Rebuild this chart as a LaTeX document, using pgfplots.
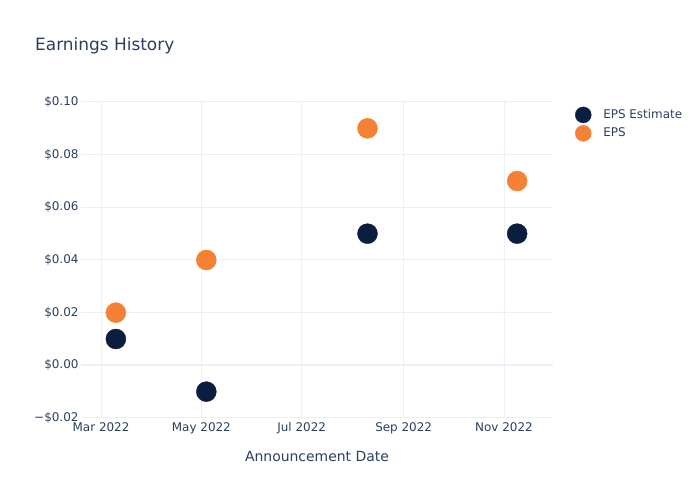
\documentclass[border=0pt]{standalone}
\usepackage{pgfplots}
\pgfplotsset{compat=1.18}
\usepackage{fontspec}
\setmainfont{DejaVu Sans}
\definecolor{navy}{RGB}{11,30,64}
\definecolor{orng}{RGB}{245,130,52}
\definecolor{txt}{RGB}{42,63,95}
\definecolor{grd}{RGB}{235,240,248}
\begin{document}
\begin{tikzpicture}[x=1bp,y=1bp]
\path[use as bounding box] (0,0) rectangle (700,500);
\node[anchor=base west, text=txt, font=\fontsize{17}{20}\selectfont, inner sep=0] at (35,449) {Earnings History};
\begin{axis}[
  at={(81bp,82bp)}, anchor=south west,
  scale only axis, width=472bp, height=316bp,
  xmin=-12.2, xmax=274.8, ymin=-0.02, ymax=0.1,
  axis line style={draw=none},
  tick style={draw=none},
  grid=major, major grid style={grd, line width=1bp},
  xtick={0,61,122,184,245},
  xticklabels={Mar 2022,May 2022,Jul 2022,Sep 2022,Nov 2022},
  ytick={-0.02,0,0.02,0.04,0.06,0.08,0.1},
  yticklabels={−\$0.02,\$0.00,\$0.02,\$0.04,\$0.06,\$0.08,\$0.10},
  ticklabel style={text=txt, font=\fontsize{12}{14}\selectfont},
  yticklabel style={xshift=1bp},
  xticklabel style={yshift=-1bp},
  xlabel={Announcement Date},
  xlabel style={at={(axis description cs:0.5,0)}, anchor=center, yshift=-39bp, text=txt, font=\fontsize{14}{16}\selectfont},
  legend image code/.code={\fill[#1] (0bp,0bp) circle (8bp); \path[draw=none,fill=none] (0bp,0bp) -- (18bp,0bp);},
  legend style={at={(1.04,0.992)}, anchor=north west, draw=none, fill=none,
    text=txt, font=\fontsize{12}{14}\selectfont, row sep=2bp,
    nodes={inner sep=2bp}},
  legend cell align=left,
]
\draw[grd, line width=2bp] (axis cs:-12.2,0) -- (axis cs:274.8,0);
\addplot[only marks, mark=*, mark size=10bp, color=navy, mark options={draw=navy, fill=navy}]
  coordinates {(9,0.01) (64,-0.01) (162,0.05) (253,0.05)};
\addlegendentry{EPS Estimate}
\addplot[only marks, mark=*, mark size=10bp, color=orng, mark options={draw=orng, fill=orng}]
  coordinates {(9,0.02) (64,0.04) (162,0.09) (253,0.07)};
\addlegendentry{EPS}
\end{axis}
\end{tikzpicture}
\end{document}
